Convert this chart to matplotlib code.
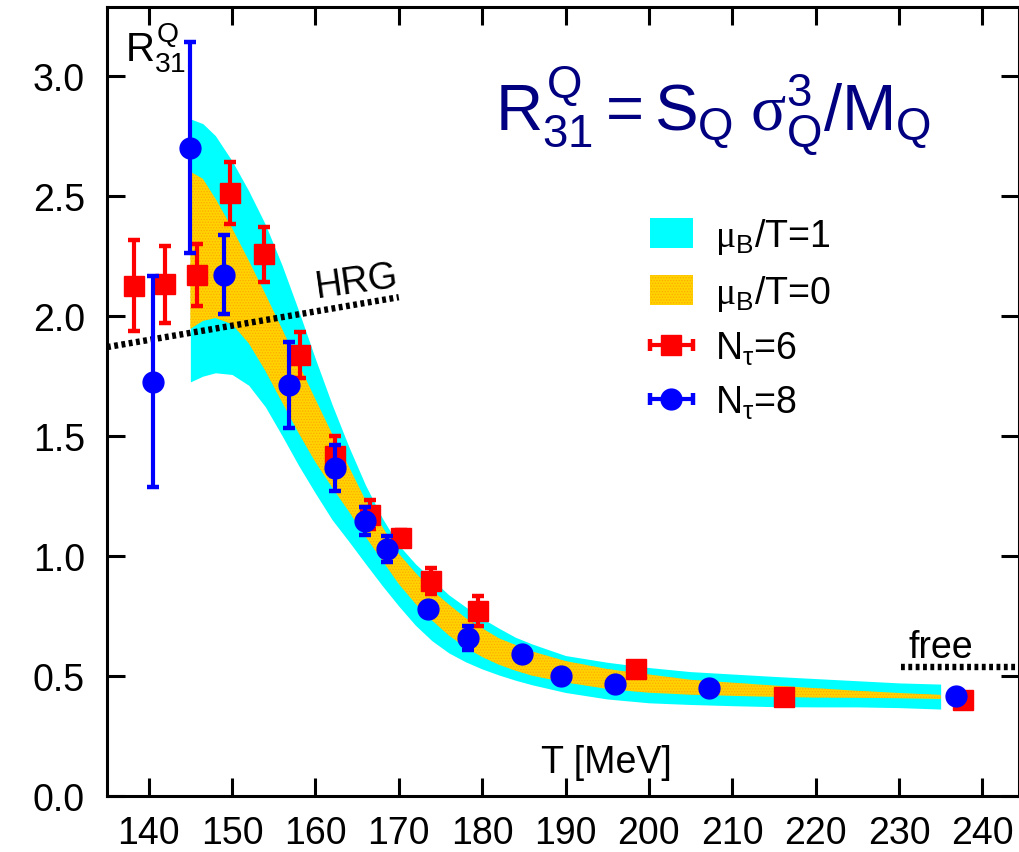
import numpy as np
import matplotlib
matplotlib.use('Agg')
from matplotlib import pyplot as plt
from matplotlib.container import ErrorbarContainer
from matplotlib.legend_handler import HandlerErrorbar

plt.rcParams['font.family'] = 'Liberation Sans'
plt.rcParams['mathtext.fontset'] = 'custom'
plt.rcParams['mathtext.rm'] = 'Liberation Sans'
plt.rcParams['mathtext.it'] = 'Liberation Sans'
plt.rcParams['mathtext.sf'] = 'Liberation Serif'
plt.rcParams['hatch.linewidth'] = 0.6

# lattice data, N_tau = 6
T6 = [138.2, 142.0, 145.8, 149.8, 153.8, 158.1, 162.3, 166.6, 170.3, 173.9, 179.5, 198.5, 216.2, 237.7]
R6 = [2.125, 2.13, 2.17, 2.51, 2.255, 1.835, 1.415, 1.17, 1.075, 0.895, 0.77, 0.528, 0.41, 0.40]
E6 = [0.19, 0.16, 0.13, 0.13, 0.115, 0.095, 0.085, 0.06, 0.03, 0.055, 0.063, 0.02, 0.015, 0.015]

# lattice data, N_tau = 8
T8 = [140.5, 145.0, 149.0, 156.8, 162.3, 166.0, 168.6, 173.5, 178.3, 184.8, 189.5, 195.9, 207.2, 236.9]
R8 = [1.725, 2.70, 2.17, 1.71, 1.365, 1.146, 1.028, 0.778, 0.656, 0.59, 0.50, 0.465, 0.449, 0.414]
E8 = [0.44, 0.44, 0.165, 0.18, 0.095, 0.058, 0.055, 0.02, 0.05, 0.015, 0.015, 0.015, 0.015, 0.01]

# bands (continuum estimate)
T_band = [145, 146.5, 148, 150, 152, 154, 156, 158, 160, 162, 164, 166, 168, 170, 172, 174,
          176, 178, 180, 182, 184, 186, 190, 195, 200, 205, 210, 215, 220, 225, 230, 235]
mu1_hi = [2.82, 2.80, 2.75, 2.645, 2.52, 2.38, 2.21, 2.02, 1.82, 1.63, 1.455, 1.295, 1.158, 1.044, 0.966, 0.901,
          0.837, 0.787, 0.739, 0.698, 0.660, 0.632, 0.584, 0.556, 0.534, 0.517, 0.507, 0.497, 0.488, 0.479, 0.470, 0.465]
mu1_lo = [1.724, 1.748, 1.762, 1.755, 1.71, 1.62, 1.50, 1.375, 1.26, 1.15, 1.06, 0.967, 0.876, 0.79, 0.71, 0.645,
          0.595, 0.558, 0.528, 0.503, 0.481, 0.462, 0.43, 0.403, 0.387, 0.380, 0.375, 0.371, 0.370, 0.370, 0.367, 0.361]
mu0_hi = [2.60, 2.57, 2.488, 2.365, 2.23, 2.09, 1.945, 1.797, 1.652, 1.508, 1.372, 1.232, 1.122, 1.008, 0.929, 0.855,
          0.797, 0.741, 0.698, 0.656, 0.628, 0.601, 0.561, 0.528, 0.505, 0.483, 0.471, 0.459, 0.448, 0.437, 0.428, 0.42]
mu0_lo = [1.945, 1.978, 1.99, 1.965, 1.885, 1.77, 1.64, 1.51, 1.39, 1.285, 1.185, 1.08, 0.981, 0.882, 0.80, 0.73,
          0.668, 0.618, 0.578, 0.546, 0.521, 0.50, 0.472, 0.445, 0.429, 0.421, 0.416, 0.412, 0.409, 0.408, 0.406, 0.403]

# limits
T_hrg = [135.0, 170.0]
R_hrg = [1.869, 2.077]
T_free = [230.2, 245.0]
R_free = [0.5375, 0.5375]

xticks = list(range(140, 241, 10))
yticks = [0.0, 0.5, 1.0, 1.5, 2.0, 2.5, 3.0]

fig = plt.figure(figsize=(10.19, 8.53), dpi=100)
ax = fig.add_axes([107/1019, 56.3/853, 912/1019, 788.7/853])

cyan = ax.fill_between(T_band, mu1_lo, mu1_hi, color='#00ffff', lw=0, zorder=1)
orng = ax.fill_between(T_band, mu0_lo, mu0_hi, facecolor='#ffd200', edgecolor='#ffaa00',
                       hatch='......', lw=0, zorder=2)

dots = (0, (0.6, 0.55))
ax.plot(T_hrg, R_hrg, color='k', lw=4.6, ls=dots, zorder=3)
ax.plot(T_free, R_free, color='k', lw=4.6, ls=dots, zorder=3, clip_on=False)

# no mew here: errorbar would pass it on to the caps and hide them
eb = dict(ms=15, elinewidth=3, capsize=4, capthick=3.2)
ax.errorbar(T6, R6, yerr=E6, fmt='s', color='#ff0000', zorder=4, **eb)
ax.errorbar(T8, R8, yerr=E8, fmt='o', color='#0000ff', zorder=5, **eb)

# legend proxies with horizontal bars, gnuplot style
h6 = ax.errorbar([np.nan], [np.nan], xerr=[1], fmt='s', color='#ff0000', **eb)
h8 = ax.errorbar([np.nan], [np.nan], xerr=[1], fmt='o', color='#0000ff', **eb)

leg = ax.legend([cyan, orng, h6, h8],
                [r'$\mathsf{\mu}_\mathrm{B}$/T=1', r'$\mathsf{\mu}_\mathrm{B}$/T=0',
                 r'N$_\tau$=6', r'N$_\tau$=8'],
                handler_map={ErrorbarContainer: HandlerErrorbar(xerr_size=0.57)},
                loc='upper left', bbox_to_anchor=(0.595, 0.735), frameon=False,
                fontsize=27, borderpad=0, borderaxespad=0, handlelength=1.15,
                handleheight=0.85, handletextpad=0.6, labelspacing=0.45)

ax.text(207.7, 2.778, r'$R^{Q}_{31}=S_{Q}\;\mathsf{\sigma}^{3}_{Q}/M_{Q}$',
        color='#000080', fontsize=47, ha='center', va='baseline')
ax.text(137.1, 3.12, r'$R^{Q}_{31}$', fontsize=29, ha='left', va='center')
ax.text(165.0, 2.145, 'HRG', fontsize=27, ha='center', va='center', rotation=8)
ax.text(235.0, 0.578, 'free', fontsize=27, ha='center', va='baseline')
ax.text(194.9, 0.10, 'T [MeV]', fontsize=27, ha='center', va='baseline')

ax.set_xlim(135.0, 244.4)
ax.set_ylim(0.0, 3.286)
ax.set_xticks(xticks)
ax.set_yticks(yticks)
ax.set_yticklabels([f'{v:.1f}' for v in yticks])
ax.tick_params(direction='in', length=13, width=2.2, labelsize=27,
               top=True, right=True)
ax.tick_params(axis='x', pad=14)
ax.tick_params(axis='y', pad=16)
for sp in ax.spines.values():
    sp.set_linewidth(2.2)

fig.savefig('out.png', dpi=100)
